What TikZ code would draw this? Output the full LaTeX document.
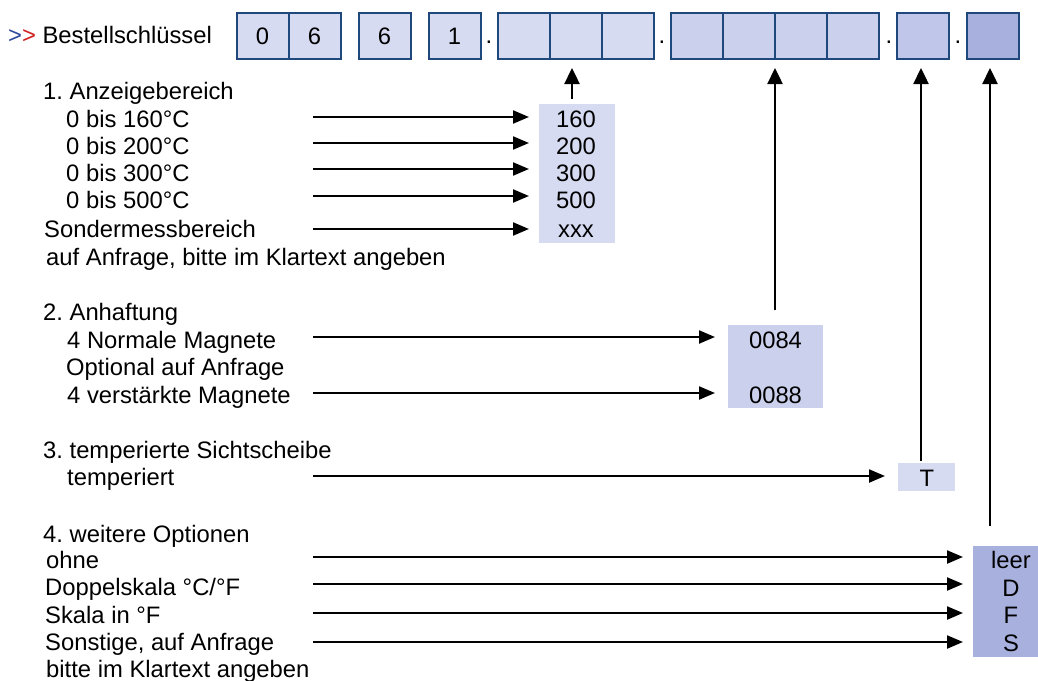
\documentclass[tikz,border=0pt]{standalone}
\usepackage{fontspec}
\setmainfont{Liberation Sans}
\usetikzlibrary{arrows.meta}
\definecolor{cA}{RGB}{214,219,241}
\definecolor{cE}{RGB}{203,208,236}
\definecolor{cF}{RGB}{192,198,233}
\definecolor{cG}{RGB}{168,176,221}
\definecolor{bordc}{RGB}{31,73,125}
\definecolor{gtblue}{RGB}{46,74,154}
\definecolor{gtred}{RGB}{208,32,32}
\frenchspacing
\begin{document}
\begin{tikzpicture}[x=1pt,y=-1pt,
  every node/.style={font=\fontsize{23.8}{27.5}\selectfont\frenchspacing},
  lbl/.style={anchor=base west,inner sep=0pt},
  cell/.style={draw=bordc,line width=2pt,minimum width=52pt,minimum height=46pt,inner sep=0pt,anchor=north west},
  vbox/.style={inner sep=0pt,anchor=north west},
  val/.style={anchor=base,inner sep=0pt},
  dotnode/.style={anchor=base,inner sep=0pt},
  arr/.style={line width=2.2pt,-{Triangle[length=16pt,width=13pt]}},
  uparr/.style={line width=2.4pt,-{Triangle[length=16pt,width=15pt]}}]
\useasboundingbox[fill=white] (0,0) rectangle (1038,680);

% top row
\node[lbl] (title) at (8,43) {\textcolor{gtblue}{>}\textcolor{gtred}{>} Bestellschlüssel};
\node[cell,fill=cA] (A1) at (235.5,12) {0};
\node[cell,fill=cA] (A2) at (287.5,12) {6};
\node[cell,fill=cA] (B1) at (357.5,12) {6};
\node[cell,fill=cA] (C1) at (427.5,12) {1};
\node[dotnode] (d1) at (489,43) {.};
\node[cell,fill=cA] (D1) at (496.5,12) {};
\node[cell,fill=cA] (D2) at (548.5,12) {};
\node[cell,fill=cA] (D3) at (600.5,12) {};
\node[dotnode] (d2) at (662,43) {.};
\node[cell,fill=cE] (E1) at (670,12) {};
\node[cell,fill=cE] (E2) at (722,12) {};
\node[cell,fill=cE] (E3) at (774,12) {};
\node[cell,fill=cE] (E4) at (826,12) {};
\node[dotnode] (d3) at (889,43) {.};
\node[cell,fill=cF] (F1) at (896,12) {};
\node[dotnode] (d4) at (958,43) {.};
\node[cell,fill=cG] (G1) at (965.5,12) {};

% value boxes
\node[vbox,fill=cA,minimum width=76pt,minimum height=139pt] (v1) at (539,104) {};
\node[vbox,fill=cE,minimum width=95pt,minimum height=83pt] (v2) at (728,325) {};
\node[vbox,fill=cA,minimum width=57pt,minimum height=28pt] (v3) at (898,463) {};
\node[vbox,fill=cG,minimum width=75pt,minimum height=111pt] (v4) at (973,546) {};

\node[val] (t160) at (576,127) {160};
\node[val] (t200) at (576,154) {200};
\node[val] (t300) at (576,181) {300};
\node[val] (t500) at (576,208) {500};
\node[val] (txxx) at (576,237) {xxx};
\node[val] (t84) at (775.5,348) {0084};
\node[val] (t88) at (775.5,403) {0088};
\node[val] (tT) at (927,486) {T};
\node[val] (tleer) at (1011,568) {leer};
\node[val] (tD) at (1011,596) {D};
\node[val] (tF) at (1011,623) {F};
\node[val] (tS) at (1011,651) {S};

% labels
\node[lbl] (h1) at (43,99) {1. Anzeigebereich};
\node[lbl] (l11) at (66,127) {0 bis 160°C};
\node[lbl] (l12) at (66,154) {0 bis 200°C};
\node[lbl] (l13) at (66,181) {0 bis 300°C};
\node[lbl] (l14) at (66,208) {0 bis 500°C};
\node[lbl] (l15) at (44,237) {Sondermessbereich};
\node[lbl] (l16) at (46,265) {auf Anfrage, bitte im Klartext angeben};
\node[lbl] (h2) at (43,320) {2. Anhaftung};
\node[lbl] (l21) at (67,348) {4 Normale Magnete};
\node[lbl] (l22) at (66,375) {Optional auf Anfrage};
\node[lbl] (l23) at (67,403) {4 verstärkte Magnete};
\node[lbl] (h3) at (43,458) {3. temperierte Sichtscheibe};
\node[lbl] (l31) at (67,485) {temperiert};
\node[lbl] (h4) at (43,542) {4. weitere Optionen};
\node[lbl] (l41) at (46,568) {ohne};
\node[lbl] (l42) at (45,595) {Doppelskala °C/°F};
\node[lbl] (l43) at (45,623) {Skala in °F};
\node[lbl] (l44) at (45,650) {Sonstige, auf Anfrage};
\node[lbl] (l45) at (46,677) {bitte im Klartext angeben};

% arrow end coordinates
\foreach \n/\y in {11/117,12/143,13/169,14/196,15/229}{
  \coordinate (s\n) at (313,\y); \coordinate (e\n) at (529,\y);}
\foreach \n/\y in {21/337,23/393}{
  \coordinate (s\n) at (313,\y); \coordinate (e\n) at (715,\y);}
\coordinate (s31) at (313,476); \coordinate (e31) at (885,476);
\foreach \n/\y in {41/557,42/584,43/613,44/642}{
  \coordinate (s\n) at (313,\y); \coordinate (e\n) at (963,\y);}

\foreach \n in {11,12,13,14,15,21,23,31,41,42,43,44}{
  \draw[arr] (s\n) -- (e\n);}

% up arrows
\coordinate (u1s) at (572,99);  \coordinate (u1e) at (572,68);
\coordinate (u2s) at (775,310); \coordinate (u2e) at (775,68);
\coordinate (u3s) at (921,461); \coordinate (u3e) at (921,68);
\coordinate (u4s) at (990,526); \coordinate (u4e) at (990,68);
\draw[uparr] (u1s) -- (u1e);
\draw[uparr] (u2s) -- (u2e);
\draw[uparr] (u3s) -- (u3e);
\draw[uparr] (u4s) -- (u4e);
\end{tikzpicture}
\end{document}
